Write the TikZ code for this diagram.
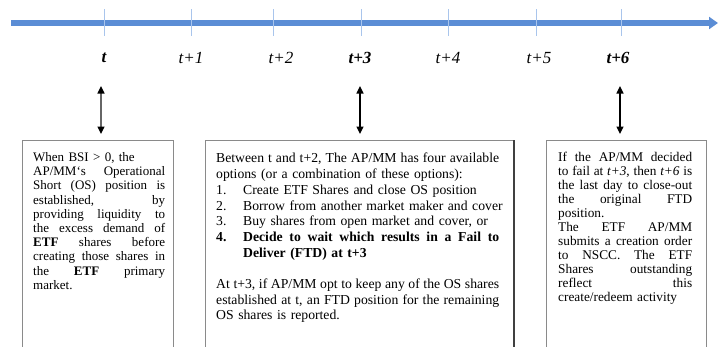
\documentclass[tikz,border=0pt]{standalone}
\usepackage{fontspec}
\setmainfont{Liberation Serif}
\usetikzlibrary{arrows.meta}
\definecolor{axisblue}{HTML}{5B8DD5}
\definecolor{tickblue}{HTML}{A9C5EC}
\definecolor{boxgray}{HTML}{8A8A8A}
\tikzset{
  daylabel/.style={font=\fontsize{17}{19}\selectfont\itshape, inner sep=0pt},
  keylabel/.style={daylabel, font=\fontsize{17}{19}\selectfont\bfseries\itshape},
  tickline/.style={draw=tickblue, line width=0.9pt},
  linkarrow/.style={line width=1.3pt,
    {Triangle[length=7.5pt,width=7pt,color=black]}-{Triangle[length=7.5pt,width=7pt,color=black]}},
  framebox/.style={draw=boxgray, line width=1pt, anchor=north west, inner sep=0pt},
  boxtext/.style={anchor=north west, inner sep=0pt}
}
% one justified line / one natural line of a frame text, \lw being the line width
\newcommand\jl[1]{\par\noindent
  \hbox to\lw{\spaceskip=\fontdimen2\font plus 1fil\xspaceskip=\spaceskip #1}\par}
\newcommand\nl[1]{\par\noindent\hbox to\lw{#1\hfil}\par}
\begin{document}
\begin{tikzpicture}[x=1pt,y=-1pt]
  \clip (0,0) rectangle (718,346);
  \fill[white] (0,0) rectangle (718,346);

  % time axis
  \coordinate (axisL) at (11,23);
  \coordinate (axisR) at (718,23);
  \draw[axisblue, line width=5.5pt, -{Triangle[length=9pt,width=12pt]}] (axisL) -- (axisR);

  % day ticks
  \foreach \n/\x in {d0/104, d1/191, d2/273, d3/361, d4/448, d5/536, d6/621}{
    \coordinate (\n top) at (\x,9);
    \coordinate (\n bot) at (\x,36);
    \draw[tickline] (\n top) -- (\n bot);
  }

  % day labels
  \node[keylabel] (l0) at (104,58) {t};
  \node[daylabel] (l1) at (191,58) {t+1};
  \node[daylabel] (l2) at (281,58) {t+2};
  \node[keylabel] (l3) at (360,58) {t+3};
  \node[daylabel] (l4) at (448,58) {t+4};
  \node[daylabel] (l5) at (539,58) {t+5};
  \node[keylabel] (l6) at (618,58) {t+6};

  % frames (open at the bottom edge)
  \node[framebox, minimum width=151pt, minimum height=240pt] (b1) at (22,140) {};
  \node[framebox, minimum width=308pt, minimum height=240pt] (b2) at (205,140) {};
  \node[framebox, minimum width=160pt, minimum height=240pt] (b3) at (546,140) {};
  \draw[black!75, line width=1.6pt] (b2.north east) -- (b2.south east);

  % links between days and frames
  \coordinate (u1) at (101,86);  \coordinate (v1) at (101,134);
  \coordinate (u2) at (360,86);  \coordinate (v2) at (360,134);
  \coordinate (u3) at (620,86);  \coordinate (v3) at (620,134);
  \draw[linkarrow, draw=black!60] (u1) -- (v1);
  \draw[linkarrow] (u2) -- (v2);
  \draw[linkarrow] (u3) -- (v3);

  % frame texts
  \node[boxtext, text width=132pt, font=\fontsize{13}{14.2}\selectfont] (t1) at (33,147) {%
    \def\lw{132pt}%
    \nl{When BSI > 0, the}
    \jl{AP/MM`s Operational}
    \jl{Short (OS) position is}
    \jl{established, by}
    \jl{providing liquidity to}
    \jl{the excess demand of}
    \jl{\textbf{ETF} shares before}
    \jl{creating those shares in}
    \jl{the \textbf{ETF} primary}
    \nl{market.}};

  \node[boxtext, text width=283pt, font=\fontsize{13.7}{15.7}\selectfont] (t2) at (216,147) {%
    \def\lw{283pt}%
    \jl{Between t and t+2, The AP/MM has four available}
    \nl{options (or a combination of these options):}
    \nl{\makebox[27pt][l]{1.}Create ETF Shares and close OS position}
    \nl{\makebox[27pt][l]{2.}Borrow from another market maker and cover}
    \nl{\makebox[27pt][l]{3.}Buy shares from open market and cover, or}
    \jl{\makebox[27pt][l]{\bfseries 4.}\bfseries Decide to wait which results in a Fail to}
    \nl{\hspace*{27pt}\bfseries Deliver (FTD) at t+3}
    \nl{}
    \jl{At t+3, if AP/MM opt to keep any of the OS shares}
    \jl{established at t, an FTD position for the remaining}
    \nl{OS shares is reported.}};

  \node[boxtext, text width=134pt, font=\fontsize{13.3}{14.0}\selectfont] (t3) at (558,147) {%
    \def\lw{134pt}%
    \jl{If the AP/MM decided}
    \jl{to fail at \textit{t+3}, then \textit{t+6} is}
    \jl{the last day to close-out}
    \jl{the original FTD}
    \nl{position.}
    \jl{The ETF AP/MM}
    \jl{submits a creation order}
    \jl{to NSCC. The ETF}
    \jl{Shares outstanding}
    \jl{reflect this}
    \nl{create/redeem activity}};
\end{tikzpicture}
\end{document}
